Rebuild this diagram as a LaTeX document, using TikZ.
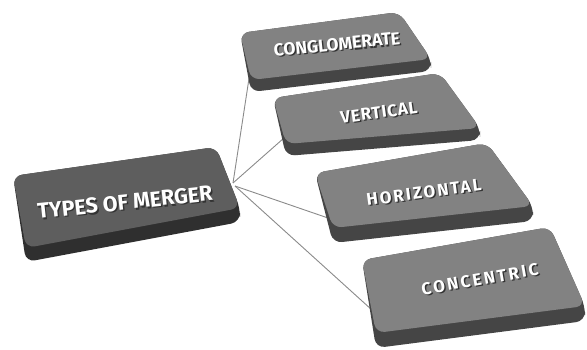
\documentclass[tikz,border=0pt]{standalone}
\usepackage{fontspec}
\setmainfont{Fira Sans}
\usetikzlibrary{calc}

\definecolor{mainface}{HTML}{5E5E5E}
\definecolor{mainside}{HTML}{2F2F2F}
\definecolor{subface}{HTML}{828282}
\definecolor{subside}{HTML}{454545}
\definecolor{linkgray}{HTML}{8A8A8A}
\definecolor{txtshadow}{HTML}{333333}

\tikzset{
  link/.style={draw=linkgray, line width=0.9pt},
  label/.style={text=white, inner sep=0pt},
}

% white text with a dark drop shadow set behind it
\newcommand\shadowtext[1]{%
  \makebox[0pt][l]{\kern1.3pt\raisebox{-1.3pt}{\color{txtshadow}#1}}#1}

% #1 face colour, #2 side colour, #3..#6 face corners TL TR BR BL, #7 thickness
\newcommand\slabbutton[7]{%
  \fill[#2, rounded corners=9pt]
    (#3) -- (#4) -- (#5) -- ($(#5)+(0,#7)$) -- ($(#6)+(0,#7)$) -- cycle;
  \fill[#1, rounded corners=9pt] (#3) -- (#4) -- (#5) -- (#6) -- cycle;
}

% #1 name, #2 position, #3 angle, #4 size, #5 letter spacing, #6 text
\newcommand\slablabel[6]{%
  \node[label, rotate=#3, font=\bfseries\fontsize{#4}{#4}\selectfont\addfontfeature{LetterSpace=#5}]
    (#1) at (#2) {\shadowtext{#6}};
}

\begin{document}
\begin{tikzpicture}[x=1pt, y=-1pt]
\useasboundingbox (0,0) rectangle (587,350);

% attachment points
\coordinate (hubtop) at (233,183);
\coordinate (hublow) at (235,186);
\coordinate (congin) at (250,72);
\coordinate (vertin) at (284,138);
\coordinate (horzin) at (328,218);
\coordinate (concin) at (372,310);

% connectors (behind the buttons)
\draw[link] (hubtop) -- (congin);
\draw[link] (hubtop) -- (vertin);
\draw[link] (hublow) -- (horzin);
\draw[link] (hublow) -- (concin);

% buttons
\slabbutton{mainface}{mainside}{13,176}{216,147}{240,208}{26,248}{14}
\slabbutton{subface}{subside}{240,33}{399,12}{431,59}{251,80}{12}
\slabbutton{subface}{subside}{273,98}{440,73}{480,128}{286,144}{12}
\slabbutton{subface}{subside}{315,173}{487,143}{533,206}{333,228}{15}
\slabbutton{subface}{subside}{362,260}{550,227}{585,306}{376,333}{15}

% labels
\slablabel{types}{125,203}{6}{21.5}{0}{TYPES OF MERGER}
\slablabel{cong}{337,45}{5.7}{17.5}{0}{CONGLOMERATE}
\slablabel{vert}{379,113}{8}{17}{5}{VERTICAL}
\slablabel{horz}{424,193}{7.6}{17}{12}{HORIZONTAL}
\slablabel{conc}{480,280}{10}{17}{14}{CONCENTRIC}
\end{tikzpicture}
\end{document}
